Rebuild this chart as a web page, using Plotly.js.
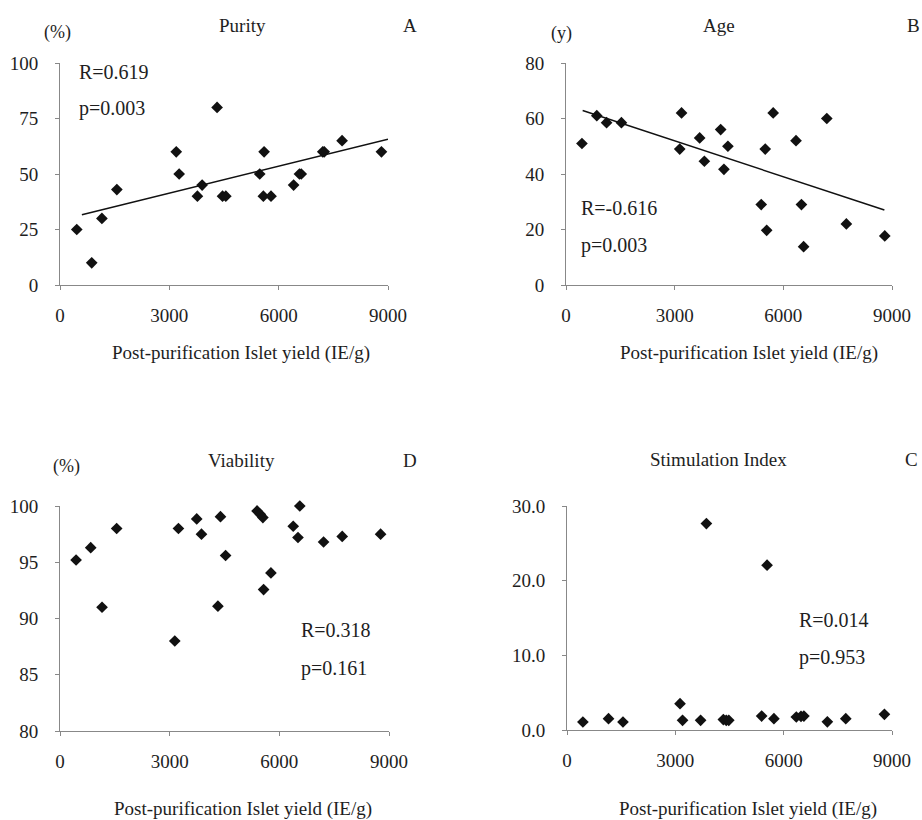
<!DOCTYPE html>
<html>
<head>
<meta charset="utf-8">
<script src="https://cdn.plot.ly/plotly-3.0.1.min.js"></script>
<style>html,body{margin:0;padding:0;background:#fff;}#chart{width:922px;height:820px;}</style>
</head>
<body>
<div id="chart"></div>
<script>
// ---- Data ----
// Panel A: Purity (%)
const purityX = [460, 870, 1150, 1560, 3190, 3270, 3770, 3900, 4310, 4460, 4550, 5480, 5600, 5580, 5790, 6410, 6570, 6620, 7210, 7250, 7740, 8820];
const purityY = [25, 10, 30, 43, 60, 50, 40, 45, 80, 40, 40, 50, 60, 40, 40, 45, 50, 50, 60, 60, 65, 60];
const purityTrendX = [600, 9000];
const purityTrendY = [31.6, 65.7];

// Panel B: Age (y)
const ageX = [440, 850, 1120, 1530, 3140, 3190, 3690, 3820, 4270, 4360, 4470, 5390, 5500, 5540, 5720, 6350, 6500, 6560, 7200, 7740, 8800];
const ageY = [51, 61, 58.5, 58.5, 49, 62, 53, 44.6, 56, 41.7, 50, 29, 49, 19.7, 62, 52, 29, 13.8, 60, 22, 17.7];
const ageTrendX = [460, 8790];
const ageTrendY = [62.9, 27];

// Panel D: Viability (%)
const viabX = [440, 840, 1150, 1550, 3140, 3240, 3740, 3870, 4320, 4390, 4530, 5390, 5480, 5550, 5570, 5770, 6380, 6510, 6560, 7210, 7720, 8770];
const viabY = [95.2, 96.3, 91.0, 98.0, 88.0, 98.0, 98.85, 97.5, 91.1, 99.05, 95.6, 99.56, 99.26, 98.97, 92.57, 94.05, 98.2, 97.2, 100, 96.8, 97.3, 97.5];

// Panel C: Stimulation Index
const siX = [440, 1150, 1550, 3130, 3200, 3700, 3860, 4330, 4410, 4480, 5390, 5540, 5730, 6350, 6480, 6560, 7210, 7720, 8790];
const siY = [1.07, 1.52, 1.07, 3.52, 1.29, 1.29, 27.64, 1.4, 1.3, 1.3, 1.87, 22.07, 1.52, 1.74, 1.83, 1.87, 1.1, 1.52, 2.1];

// Text
const xTitle = 'Post-purification Islet yield (IE/g)';
const panelTitles = ['Purity', 'Age', 'Viability', 'Stimulation Index'];
const panelLetters = ['A', 'B', 'D', 'C'];
const unitLabels = ['(%)', '(y)', '(%)', ''];
const statsR = ['R=0.619', 'R=-0.616', 'R=0.318', 'R=0.014'];
const statsP = ['p=0.003', 'p=0.003', 'p=0.161', 'p=0.953'];

// ---- Layout helpers (pixels -> paper) ----
const W = 922, H = 820;
const px = x => x / W;
const py = y => 1 - y / H;
const FONT = 'Liberation Serif, Times New Roman, serif';
const TXT = '#1e1e1e';

const marker = {symbol: 'diamond', size: 9, color: '#111'};
const trendLine = {color: '#111', width: 1.5};

const data = [
  {x: purityX, y: purityY, xaxis: 'x', yaxis: 'y', mode: 'markers', type: 'scatter', marker, cliponaxis: false},
  {x: purityTrendX, y: purityTrendY, xaxis: 'x', yaxis: 'y', mode: 'lines', type: 'scatter', line: trendLine},
  {x: ageX, y: ageY, xaxis: 'x2', yaxis: 'y2', mode: 'markers', type: 'scatter', marker, cliponaxis: false},
  {x: ageTrendX, y: ageTrendY, xaxis: 'x2', yaxis: 'y2', mode: 'lines', type: 'scatter', line: trendLine},
  {x: viabX, y: viabY, xaxis: 'x3', yaxis: 'y3', mode: 'markers', type: 'scatter', marker, cliponaxis: false},
  {x: siX, y: siY, xaxis: 'x4', yaxis: 'y4', mode: 'markers', type: 'scatter', marker, cliponaxis: false}
];

function xa(domainPx, anchor) {
  return {
    domain: [px(domainPx[0]), px(domainPx[1])], anchor,
    range: [0, 9000], tickvals: [0, 3000, 6000, 9000], ticktext: ['0', '3000', '6000', '9000'],
    showgrid: false, zeroline: false, showline: true, linecolor: '#888', linewidth: 1,
    ticks: 'outside', ticklen: 4, tickcolor: '#888', ticklabelstandoff: 9,
    tickfont: {family: FONT, size: 19, color: TXT}, fixedrange: true
  };
}
function ya(domainPx, anchor, range, dtick, fmt) {
  return {
    domain: [py(domainPx[1]), py(domainPx[0])], anchor,
    range, dtick, tick0: range[0], tickformat: fmt || '',
    showgrid: false, zeroline: false, showline: true, linecolor: '#888', linewidth: 1,
    ticks: 'outside', ticklen: 4, tickcolor: '#888', ticklabelstandoff: 13,
    tickfont: {family: FONT, size: 19, color: TXT}, fixedrange: true
  };
}

// Panel pixel boxes: [x0,x1] and [yTop,yBottom]
const boxes = [
  {x: [60, 388], y: [63, 285]},
  {x: [566, 892], y: [63, 285]},
  {x: [60, 389], y: [506, 731]},
  {x: [567, 892], y: [506, 730]}
];

const annotations = [];
function addText(text, x, y, size, anchor) {
  annotations.push({text, x: px(x), y: py(y), xref: 'paper', yref: 'paper', showarrow: false,
    xanchor: anchor || 'center', yanchor: 'middle', font: {family: FONT, size, color: TXT}});
}
// titles
const titlePos = [[242, 25], [719, 25], [241, 460], [718, 459]];
const letterPos = [[410, 25], [913, 25], [410, 460], [911, 459]];
const unitPos = [[57, 32], [561, 33], [66, 467], [0, 0]];
const xTitlePos = [[241, 353], [749, 353], [243, 809], [748, 809]];
const rPos = [[77, 72], [579, 208], [299, 630], [797, 620]];
const pPos = [[77, 108], [579, 245], [299, 668], [797, 657]];
for (let i = 0; i < 4; i++) {
  addText(panelTitles[i], titlePos[i][0], titlePos[i][1], 19);
  addText(panelLetters[i], letterPos[i][0], letterPos[i][1], 19);
  if (unitLabels[i]) addText(unitLabels[i], unitPos[i][0], unitPos[i][1], 18);
  addText(xTitle, xTitlePos[i][0], xTitlePos[i][1], 19);
  addText(statsR[i], rPos[i][0], rPos[i][1], 20, 'left');
  addText(statsP[i], pPos[i][0], pPos[i][1], 20, 'left');
}

const layout = {
  width: W, height: H, margin: {l: 0, r: 0, t: 0, b: 0},
  paper_bgcolor: '#fff', plot_bgcolor: '#fff', showlegend: false,
  font: {family: FONT, color: TXT},
  xaxis: xa(boxes[0].x, 'y'),
  yaxis: ya(boxes[0].y, 'x', [0, 100], 25),
  xaxis2: xa(boxes[1].x, 'y2'),
  yaxis2: ya(boxes[1].y, 'x2', [0, 80], 20),
  xaxis3: xa(boxes[2].x, 'y3'),
  yaxis3: ya(boxes[2].y, 'x3', [80, 100], 5),
  xaxis4: xa(boxes[3].x, 'y4'),
  yaxis4: ya(boxes[3].y, 'x4', [0, 30], 10, '.1f'),
  annotations
};

Plotly.newPlot('chart', data, layout, {staticPlot: true, displayModeBar: false});
</script>
</body>
</html>
